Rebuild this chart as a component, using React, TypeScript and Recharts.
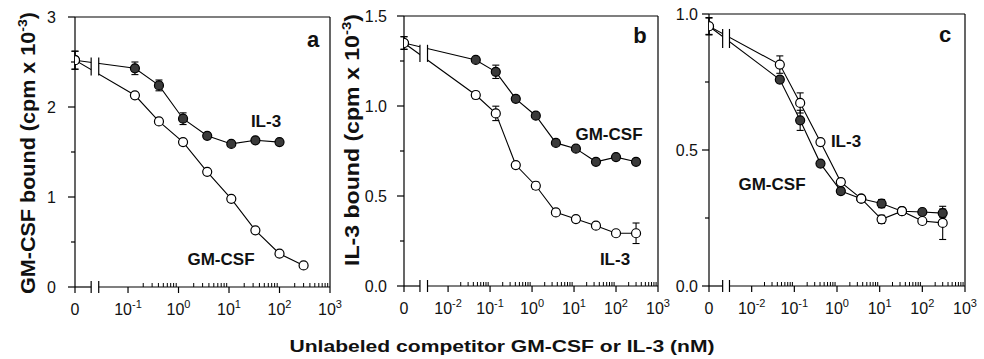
import React from 'react';
import { LineChart, Line, XAxis, YAxis, ErrorBar, ReferenceLine, ReferenceArea } from 'recharts';

const FONT = '"Liberation Sans", Arial, Helvetica, sans-serif';

// ---------- data (concentrations in nM, bound in cpm x 10^-3) ----------
const concA = [0, 0.137, 0.41, 1.23, 3.7, 11.1, 33.3, 100, 300];
const aGMCSF = [2.52, 2.13, 1.84, 1.61, 1.28, 0.98, 0.63, 0.37, 0.24];
const aGMCSFErr = [0.1, 0.02, 0.03, 0.02, 0.02, 0.02, 0.02, 0.02, 0.01];
const aIL3 = [2.52, 2.43, 2.24, 1.87, 1.68, 1.59, 1.63, 1.61];
const aIL3Err = [0.1, 0.07, 0.06, 0.065, 0.02, 0.02, 0.02, 0.02];

const concB = [0, 0.0457, 0.137, 0.41, 1.23, 3.7, 11.1, 33.3, 100, 300];
const bGMCSF = [1.35, 1.256, 1.19, 1.04, 0.946, 0.795, 0.763, 0.69, 0.716, 0.69];
const bGMCSFErr = [0.035, 0.01, 0.037, 0.015, 0.01, 0.015, 0.01, 0.01, 0.01, 0.01];
const bIL3 = [1.35, 1.061, 0.959, 0.672, 0.557, 0.409, 0.372, 0.335, 0.293, 0.293];
const bIL3Err = [0.035, 0.02, 0.04, 0.01, 0.02, 0.01, 0.01, 0.01, 0.01, 0.057];

const concC = [0, 0.0457, 0.137, 0.41, 1.23, 3.7, 11.1, 33.3, 100, 300];
const cGMCSF = [0.955, 0.759, 0.609, 0.45, 0.349, 0.321, 0.303, 0.275, 0.272, 0.268];
const cGMCSFErr = [0.03, 0.01, 0.037, 0.01, 0.01, 0.01, 0.015, 0.01, 0.01, 0.015];
const cIL3 = [0.955, 0.814, 0.673, 0.529, 0.382, 0.321, 0.245, 0.275, 0.239, 0.232];
const cIL3Err = [0.032, 0.032, 0.037, 0.01, 0.01, 0.01, 0.015, 0.01, 0.01, 0.061];

const yTicksA = [0, 0.5, 1, 1.5, 2, 2.5, 3];
const yTicksB = [0, 0.25, 0.5, 0.75, 1, 1.25, 1.5];
const yTicksC = [0, 0.25, 0.5, 0.75, 1];

type Pt = { x: number; y: number; e: number };
const toPts = (conc: number[], ys: number[], errs: number[], zeroPos: number): Pt[] =>
  ys.map((y, i) => ({ x: conc[i] === 0 ? zeroPos : Math.log10(conc[i]), y, e: errs[i] }));

interface SeriesDef { key: string; pts: Pt[]; filled: boolean }
interface PanelDef {
  left: number; width: number; height: number;
  margin: { top: number; right: number; bottom: number; left: number };
  yWidth: number; xHeight: number;
  xDomain: [number, number]; yDomain: [number, number];
  yTicks: number[]; yMajor: number[]; yDigits: number; yGap: number;
  zeroPos: number; firstDecade: number; lastDecade: number;
  b1: number; b2: number; markY: [number, number]; whiteY: [number, number];
  series: SeriesDef[];
}

const near = (a: number, b: number) => Math.abs(a - b) < 1e-9;

const makeXTicks = (p: PanelDef) => {
  const t: number[] = [p.zeroPos, p.b1, p.b2];
  for (let d = p.firstDecade; d <= p.lastDecade; d++) {
    t.push(d);
    if (d < p.lastDecade) for (let k = 2; k <= 9; k++) t.push(d + Math.log10(k));
  }
  return t;
};

const makeXTick = (p: PanelDef) => (props: any) => {
  const { x, y, payload } = props;
  const v: number = payload.value;
  if (near(v, p.b1) || near(v, p.b2)) {
    return <line x1={x} x2={x} y1={y - 6} y2={y + 6} stroke="#000" strokeWidth={1.2} />;
  }
  const isZero = near(v, p.zeroPos);
  const isMajor = isZero || near(v, Math.round(v));
  if (!isMajor) {
    return <line x1={x} x2={x} y1={y} y2={y - 4} stroke="#000" strokeWidth={1} />;
  }
  const d = Math.round(v);
  return (
    <g>
      <line x1={x} x2={x} y1={y} y2={y + 6} stroke="#000" strokeWidth={1.2} />
      <text x={x} y={y + 28} textAnchor="middle" fontSize={16} fontFamily={FONT} fill="#111">
        {isZero ? '0' : (
          <>
            <tspan>10</tspan>
            <tspan dy={-7} fontSize={11}>{String(d)}</tspan>
          </>
        )}
      </text>
    </g>
  );
};

const makeYTick = (p: PanelDef) => (props: any) => {
  const { x, y, payload } = props;
  const v: number = payload.value;
  const major = p.yMajor.some((m) => near(m, v));
  return (
    <g>
      <line x1={x - (major ? 7 : 4)} x2={x} y1={y} y2={y} stroke="#000" strokeWidth={1.2} />
      {major && (
        <text x={x - p.yGap} y={y} dy="0.36em" textAnchor="end" fontSize={16} fontFamily={FONT} fill="#111">
          {v.toFixed(p.yDigits)}
        </text>
      )}
    </g>
  );
};

const Panel = ({ p }: { p: PanelDef }) => {
  const [x0, x1] = p.xDomain;
  const [, yTop] = p.yDomain;
  return (
    <div style={{ position: 'absolute', left: p.left, top: 0, width: p.width, height: p.height }}>
      <LineChart width={p.width} height={p.height} margin={p.margin}>
        <XAxis
          type="number"
          dataKey="x"
          domain={p.xDomain}
          allowDataOverflow
          ticks={makeXTicks(p)}
          interval={0}
          tick={makeXTick(p)}
          tickLine={false}
          axisLine={false}
          tickSize={0}
          tickMargin={0}
          height={p.xHeight}
        />
        <YAxis
          type="number"
          domain={p.yDomain}
          allowDataOverflow
          ticks={p.yTicks}
          interval={0}
          tick={makeYTick(p)}
          tickLine={false}
          axisLine={{ stroke: '#000', strokeWidth: 1.2 }}
          tickSize={0}
          tickMargin={0}
          width={p.yWidth}
        />
        <ReferenceLine segment={[{ x: x0, y: 0 }, { x: p.b1, y: 0 }]} stroke="#000" strokeWidth={1.2} ifOverflow="visible" />
        <ReferenceLine segment={[{ x: p.b2, y: 0 }, { x: x1, y: 0 }]} stroke="#000" strokeWidth={1.2} ifOverflow="visible" />
        <ReferenceLine y={yTop} stroke="#000" strokeWidth={1.2} ifOverflow="visible" />
        <ReferenceLine x={x1} stroke="#000" strokeWidth={1.2} ifOverflow="visible" />
        {/* connecting lines + error bars */}
        {p.series.map((s) => (
          <Line
            key={s.key + '-line'}
            data={s.pts}
            dataKey="y"
            type="linear"
            stroke="#000"
            strokeWidth={1.1}
            dot={false}
            activeDot={false}
            isAnimationActive={false}
            {...({ zIndex: 300 } as any)}
          >
            <ErrorBar dataKey="e" width={3.5} stroke="#000" strokeWidth={1.1} direction="y" {...({ zIndex: 300 } as any)} />
          </Line>
        ))}
        {/* markers on top */}
        {p.series.map((s) => (
          <Line
            key={s.key + '-dots'}
            data={s.pts}
            dataKey="y"
            type="linear"
            stroke="none"
            dot={{ r: 4.5, fill: s.filled ? '#3a3a3a' : '#fff', stroke: '#000', strokeWidth: 1.2 }}
            activeDot={false}
            isAnimationActive={false}
            {...({ zIndex: 800 } as any)}
          />
        ))}
        <ReferenceArea
          x1={p.b1}
          x2={p.b2}
          y1={p.whiteY[0]}
          y2={p.whiteY[1]}
          fill="#fff"
          fillOpacity={1}
          stroke="none"
          ifOverflow="visible"
          {...({ zIndex: 1000 } as any)}
        />
        <ReferenceLine segment={[{ x: p.b1, y: p.markY[0] }, { x: p.b1, y: p.markY[1] }]} stroke="#000" strokeWidth={1.2} ifOverflow="visible" {...({ zIndex: 1001 } as any)} />
        <ReferenceLine segment={[{ x: p.b2, y: p.markY[0] }, { x: p.b2, y: p.markY[1] }]} stroke="#000" strokeWidth={1.2} ifOverflow="visible" {...({ zIndex: 1001 } as any)} />
      </LineChart>
    </div>
  );
};

const zeroA = -2.05;
const zeroB = -3.05;
const zeroC = -3.0;

const panelA: PanelDef = {
  left: 0, width: 346, height: 330,
  margin: { top: 17, right: 16, bottom: 3, left: 0 },
  yWidth: 75, xHeight: 40,
  xDomain: [zeroA, 3], yDomain: [0, 3],
  yTicks: yTicksA, yMajor: [0, 1, 2, 3], yDigits: 0, yGap: 19,
  zeroPos: zeroA, firstDecade: -1, lastDecade: 3,
  b1: -1.73, b2: -1.58, markY: [2.35, 2.55], whiteY: [2.25, 2.66],
  series: [
    { key: 'aIL3', pts: toPts(concA, aIL3, aIL3Err, zeroA), filled: true },
    { key: 'aGM', pts: toPts(concA, aGMCSF, aGMCSFErr, zeroA), filled: false },
  ],
};

const panelB: PanelDef = {
  left: 334, width: 340, height: 330,
  margin: { top: 16, right: 16, bottom: 4, left: 0 },
  yWidth: 70, xHeight: 40,
  xDomain: [zeroB, 3], yDomain: [0, 1.5],
  yTicks: yTicksB, yMajor: [0, 0.5, 1, 1.5], yDigits: 1, yGap: 17,
  zeroPos: zeroB, firstDecade: -2, lastDecade: 3,
  b1: -2.67, b2: -2.49, markY: [1.245, 1.34], whiteY: [1.2, 1.4],
  series: [
    { key: 'bGM', pts: toPts(concB, bGMCSF, bGMCSFErr, zeroB), filled: true },
    { key: 'bIL3', pts: toPts(concB, bIL3, bIL3Err, zeroB), filled: false },
  ],
};

const panelC: PanelDef = {
  left: 664, width: 320, height: 330,
  margin: { top: 14, right: 19, bottom: 4, left: 0 },
  yWidth: 45, xHeight: 40,
  xDomain: [zeroC, 3], yDomain: [0, 1],
  yTicks: yTicksC, yMajor: [0, 0.5, 1], yDigits: 1, yGap: 11,
  zeroPos: zeroC, firstDecade: -2, lastDecade: 3,
  b1: -2.68, b2: -2.52, markY: [0.875, 0.945], whiteY: [0.84, 0.975],
  series: [
    { key: 'cGM', pts: toPts(concC, cGMCSF, cGMCSFErr, zeroC), filled: true },
    { key: 'cIL3', pts: toPts(concC, cIL3, cIL3Err, zeroC), filled: false },
  ],
};

const txt = { fontFamily: FONT, fill: '#111' } as const;

export default function App() {
  return (
    <div style={{ position: 'absolute', left: 0, top: 0, width: 984, height: 359, background: '#fff', overflow: 'hidden' }}>
      <Panel p={panelA} />
      <Panel p={panelB} />
      <Panel p={panelC} />
      <svg width={984} height={359} style={{ position: 'absolute', left: 0, top: 0, pointerEvents: 'none' }}>
        {/* axis titles */}
        <text {...txt} transform="translate(35,153) rotate(-90)" textAnchor="middle" fontSize={20} fontWeight="bold"
          textLength={282} lengthAdjust="spacingAndGlyphs">
          <tspan>GM-CSF bound (cpm x 10</tspan>
          <tspan dy={-8} fontSize={13}>-3</tspan>
          <tspan dy={8}>)</tspan>
        </text>
        <text {...txt} transform="translate(359,140) rotate(-90)" textAnchor="middle" fontSize={20} fontWeight="bold"
          textLength={252} lengthAdjust="spacingAndGlyphs">
          <tspan>IL-3 bound (cpm x 10</tspan>
          <tspan dy={-8} fontSize={13}>-3</tspan>
          <tspan dy={8}>)</tspan>
        </text>
        <text {...txt} x={502} y={352} textAnchor="middle" fontSize={17} fontWeight="bold"
          textLength={425} lengthAdjust="spacingAndGlyphs">
          Unlabeled competitor GM-CSF or IL-3 (nM)
        </text>
        {/* panel letters */}
        <text {...txt} x={313} y={47} textAnchor="middle" fontSize={22} fontWeight="bold">a</text>
        <text {...txt} x={640} y={43} textAnchor="middle" fontSize={22} fontWeight="bold">b</text>
        <text {...txt} x={945} y={42} textAnchor="middle" fontSize={22} fontWeight="bold">c</text>
        {/* series labels */}
        <text {...txt} x={266} y={127} textAnchor="middle" fontSize={17} fontWeight="bold">IL-3</text>
        <text {...txt} x={221} y={265} textAnchor="middle" fontSize={17} fontWeight="bold">GM-CSF</text>
        <text {...txt} x={609} y={140} textAnchor="middle" fontSize={17} fontWeight="bold">GM-CSF</text>
        <text {...txt} x={615} y={265} textAnchor="middle" fontSize={17} fontWeight="bold">IL-3</text>
        <text {...txt} x={846} y={147} textAnchor="middle" fontSize={17} fontWeight="bold">IL-3</text>
        <text {...txt} x={772} y={190} textAnchor="middle" fontSize={17} fontWeight="bold">GM-CSF</text>
      </svg>
    </div>
  );
}
